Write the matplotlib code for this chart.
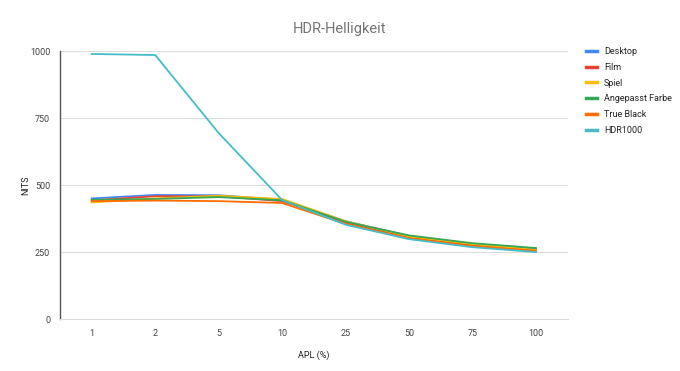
import matplotlib.pyplot as plt

apl = ["1", "2", "5", "10", "25", "50", "75", "100"]
desktop = [450, 463, 462, 445, 365, 310, 280, 262]
film = [443, 458, 458, 440, 360, 305, 275, 255]
spiel = [435, 450, 460, 448, 365, 308, 280, 258]
angepasst = [445, 448, 455, 443, 363, 312, 283, 265]
true_black = [440, 442, 440, 433, 355, 300, 272, 255]
hdr1000 = [989, 985, 694, 444, 352, 298, 268, 250]

series = [
    ("Desktop", desktop, "#4285F4"),
    ("Film", film, "#EA4335"),
    ("Spiel", spiel, "#FBBC04"),
    ("Angepasst Farbe", angepasst, "#34A853"),
    ("True Black", true_black, "#FF6D01"),
    ("HDR1000", hdr1000, "#46BDC6"),
]

plt.rcParams["font.family"] = ["Roboto", "DejaVu Sans"]

fig = plt.figure(figsize=(6.8, 3.71), dpi=100)
ax = fig.add_axes([0.0882, 0.140, 0.7468, 0.7225])

x = range(len(apl))
for name, vals, col in series:
    ax.plot(x, vals, color=col, lw=1.3, label=name)

ax.set_xlim(-0.5, len(apl) - 0.5)
ax.set_ylim(0, 1000)
ax.set_xticks(list(x))
ax.set_xticklabels(apl)
ax.set_yticks([0, 250, 500, 750, 1000])
ax.tick_params(length=0, labelsize=6.5, colors="#444444", pad=7)
ax.grid(axis="y", color="#dddddd", lw=0.8)
ax.set_axisbelow(True)
for s in ["top", "right"]:
    ax.spines[s].set_visible(False)
ax.spines["bottom"].set_color("#dddddd")
ax.spines["left"].set_color("#555555")
ax.spines["left"].set_linewidth(1.0)

ax.set_xlabel("APL (%)", fontsize=6.5, color="#222222", labelpad=9)
ax.set_ylabel("NITS", fontsize=6.5, color="#222222")
ax.yaxis.set_label_coords(-0.058, 0.5)
fig.text(0.5, 0.91, "HDR-Helligkeit", ha="center", fontsize=10.5, color="#757575")

leg = ax.legend(loc="upper left", bbox_to_anchor=(1.02, 1.045), frameon=False,
                fontsize=6.5, handlelength=1.2, handletextpad=0.8, labelspacing=0.75)
for t in leg.get_texts():
    t.set_color("#222222")
for h in leg.get_lines():
    h.set_linewidth(2.5)

fig.savefig("out.png", dpi=100)
